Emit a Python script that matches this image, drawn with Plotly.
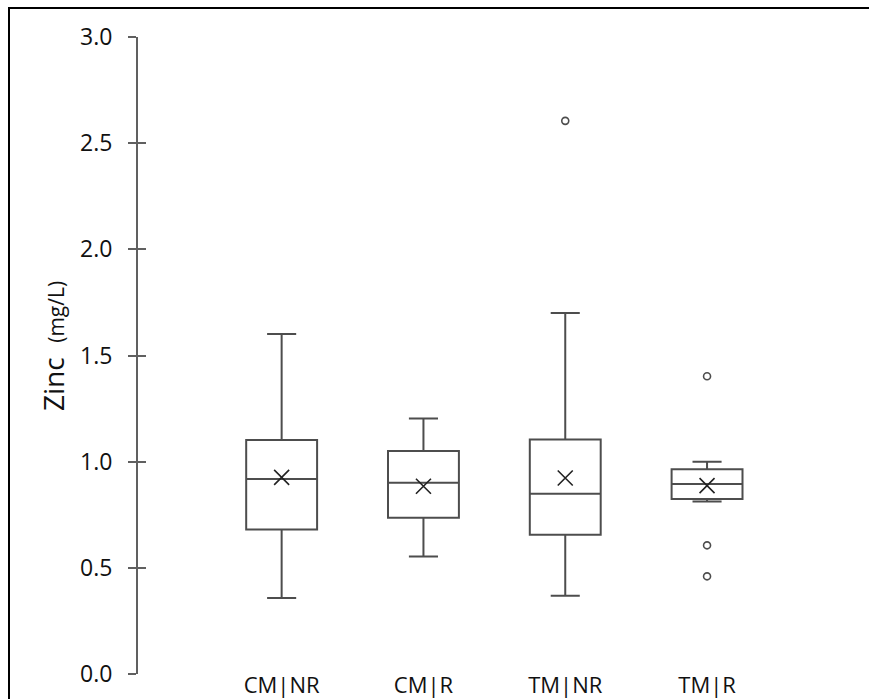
import plotly.graph_objects as go

categories = ["CM|NR", "CM|R", "TM|NR", "TM|R"]
lower_whisker = [0.358, 0.553, 0.369, 0.812]
q1_vals = [0.680, 0.736, 0.656, 0.824]
median_vals = [0.918, 0.901, 0.849, 0.895]
q3_vals = [1.102, 1.050, 1.104, 0.964]
upper_whisker = [1.601, 1.203, 1.700, 1.000]
mean_vals = [0.926, 0.884, 0.923, 0.887]
outlier_cat = ["TM|NR", "TM|R", "TM|R", "TM|R"]
outlier_vals = [2.605, 1.402, 0.606, 0.460]
y_ticks = [0.0, 0.5, 1.0, 1.5, 2.0, 2.5, 3.0]

LINE = "#4d4d4d"
FONT = "Open Sans"

W, H = 869, 699
ML, MT = 138, 37
MB = H - 674
MR = W - 848
PW = W - ML - MR
PH = H - MT - MB

def px_x(p):
    return (p - ML) / PW

def px_y(p):
    return (H - MB - p) / PH

fig = go.Figure()
fig.add_trace(go.Box(
    x=categories,
    q1=q1_vals, median=median_vals, q3=q3_vals,
    lowerfence=lower_whisker, upperfence=upper_whisker,
    width=0.5, whiskerwidth=0.41,
    fillcolor="rgba(0,0,0,0)",
    line=dict(color=LINE, width=2),
    boxpoints=False, showlegend=False, hoverinfo="skip",
))
fig.add_trace(go.Scatter(
    x=categories, y=mean_vals, mode="markers",
    marker=dict(symbol="x-thin", size=15, line=dict(color="#222222", width=1.6)),
    showlegend=False, hoverinfo="skip",
))
fig.add_trace(go.Scatter(
    x=outlier_cat, y=outlier_vals, mode="markers", yaxis="y2",
    marker=dict(symbol="circle-open", size=7, color=LINE, line=dict(color=LINE, width=1.6)),
    showlegend=False, hoverinfo="skip",
))

fig.update_layout(
    width=W, height=H,
    margin=dict(l=ML, r=MR, t=MT, b=MB, pad=0),
    paper_bgcolor="white", plot_bgcolor="white",
    font=dict(family=FONT, color="#111111"),
    xaxis=dict(
        type="category", categoryorder="array", categoryarray=categories,
        range=[-1.013, 3.994],
        showline=False, showgrid=False, zeroline=False, ticks="",
        tickfont=dict(size=22, family=FONT, color="#111111"),
        automargin=False, ticklabelstandoff=-4,
    ),
    yaxis=dict(
        range=[0, 3], tickvals=y_ticks, ticktext=[f"{v:.1f}" for v in y_ticks],
        showline=True, linecolor="#606060", linewidth=2,
        ticks="outside", ticklen=8, tickwidth=1.6, tickcolor="#606060",
        showgrid=False, zeroline=False,
        tickfont=dict(size=23, family=FONT, color="#111111"),
        ticklabelstandoff=11, automargin=False,
    ),
    yaxis2=dict(
        range=[0, 3], overlaying="y", side="left", anchor="x",
        tickvals=y_ticks, showticklabels=False,
        ticks="inside", ticklen=8, tickwidth=1.6, tickcolor="#606060",
        showline=False, showgrid=False, zeroline=False,
    ),
    annotations=[dict(
        xref="paper", yref="paper", x=px_x(53), y=px_y(346),
        xanchor="center", yanchor="middle", textangle=-90, showarrow=False,
        text="Zinc  <span style='font-size:21px'>(mg/L)</span>",
        font=dict(family=FONT, color="#111111", size=28),
    )],
    shapes=[dict(
        type="rect", xref="paper", yref="paper",
        x0=px_x(9), x1=px_x(900), y0=px_y(720), y1=px_y(8),
        line=dict(color="black", width=2), fillcolor="rgba(0,0,0,0)", layer="above",
    )],
)

fig.write_html(
    "out.html",
    config={"displayModeBar": False},
    post_script=(
        "document.documentElement.style.overflow='hidden';"
        "document.body.style.margin='0';document.body.style.overflow='hidden';"
    ),
)
